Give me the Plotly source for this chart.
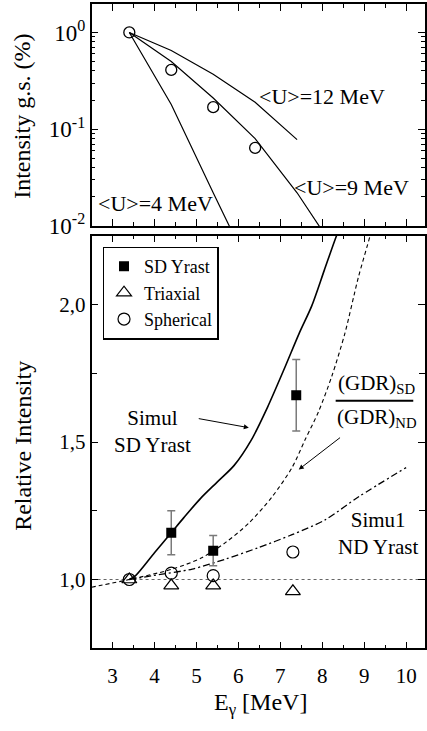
import plotly.graph_objects as go

FONT = "Liberation Serif"

# ---- upper panel: ground-state intensity vs gamma energy ----
gs_energy = [3.4, 4.4, 5.4, 6.4]
gs_intensity = [1.0, 0.41, 0.169, 0.064]

u12_energy = [3.4, 4.4, 5.4, 6.4, 7.4]
u12_intensity = [1.0, 0.65, 0.37, 0.19, 0.078]
u9_energy = [3.4, 4.4, 5.4, 6.4, 7.4, 8.4]
u9_intensity = [1.0, 0.50, 0.21, 0.080, 0.022, 0.0049]
u4_energy = [3.4, 4.4, 5.4, 6.4]
u4_intensity = [1.0, 0.18, 0.022, 0.0028]

# ---- lower panel: relative intensities ----
sd_energy = [4.4, 5.4, 7.38]
sd_rel = [1.17, 1.105, 1.67]
sd_err = [0.08, 0.055, 0.13]

shape_energy = [3.4, 4.4, 5.4, 7.3]
triaxial_rel = [1.0, 0.978, 0.978, 0.957]
spherical_rel = [1.0, 1.023, 1.014, 1.10]

simul_sd_x = [3.4, 3.55, 4.0, 4.4, 4.7, 5.1, 5.5, 5.9, 6.3, 6.7, 7.1, 7.45, 7.75, 8.05, 8.34, 8.45]
simul_sd_y = [1.0, 1.014, 1.097, 1.17, 1.225, 1.295, 1.355, 1.415, 1.505, 1.628, 1.768, 1.895, 1.995, 2.125, 2.25, 2.29]

gdr_ratio_x = [2.5, 3.4, 4.43, 5.14, 5.69, 6.25, 6.80, 7.28, 7.59, 7.91, 8.23, 8.54, 8.86, 9.14, 9.25]
gdr_ratio_y = [0.972, 1.0, 1.038, 1.08, 1.134, 1.205, 1.30, 1.407, 1.508, 1.61, 1.74, 1.895, 2.098, 2.25, 2.32]

simul_nd_x = [3.4, 3.95, 4.9, 5.69, 6.48, 7.28, 8.07, 8.86, 10.0]
simul_nd_y = [1.0, 1.014, 1.038, 1.074, 1.116, 1.163, 1.217, 1.30, 1.407]

W, H = 427, 731
x_dom = [92 / W, 1.0]
top_dom = [1 - 230 / H, 1 - 4 / H]
bot_dom = [1 - 660 / H, 1 - 240 / H]
x_range = [2.5, 10.45]

fig = go.Figure()

# upper panel curves and points
for xs, ys in [(u12_energy, u12_intensity), (u9_energy, u9_intensity), (u4_energy, u4_intensity)]:
    fig.add_trace(go.Scatter(x=xs, y=ys, mode="lines", xaxis="x2", yaxis="y2",
                             line=dict(color="black", width=1.2), showlegend=False))
fig.add_trace(go.Scatter(x=gs_energy, y=gs_intensity, mode="markers", xaxis="x2", yaxis="y2",
                         marker=dict(symbol="circle-open", size=11, color="black", line=dict(width=1.3)),
                         showlegend=False))

# lower panel curves
fig.add_trace(go.Scatter(x=simul_sd_x, y=simul_sd_y, mode="lines",
                         line=dict(color="black", width=1.6, shape="spline", smoothing=0.8),
                         showlegend=False))
fig.add_trace(go.Scatter(x=gdr_ratio_x, y=gdr_ratio_y, mode="lines",
                         line=dict(color="black", width=1.1, dash="4px,3px", shape="spline", smoothing=0.8),
                         showlegend=False))
fig.add_trace(go.Scatter(x=simul_nd_x, y=simul_nd_y, mode="lines",
                         line=dict(color="black", width=1.3, dash="7px,3px,2px,3px", shape="spline", smoothing=0.8),
                         showlegend=False))

# lower panel points
fig.add_trace(go.Scatter(x=sd_energy, y=sd_rel, mode="markers", name="SD Yrast",
                         marker=dict(symbol="square", size=10, color="black"),
                         error_y=dict(type="data", array=sd_err, color="#7a7a7a", thickness=1.5, width=4)))
fig.add_trace(go.Scatter(x=shape_energy, y=triaxial_rel, mode="markers", name="Triaxial",
                         marker=dict(symbol="triangle-up-open", size=13, color="black", line=dict(width=1.2))))
fig.add_trace(go.Scatter(x=shape_energy, y=spherical_rel, mode="markers", name="Spherical",
                         marker=dict(symbol="circle-open", size=12, color="black", line=dict(width=1.2))))

# reference level at unity
fig.add_shape(type="line", xref="x domain", x0=0, x1=1, yref="y", y0=1.0, y1=1.0,
              line=dict(color="#666666", width=1, dash="dot"), layer="below")

# fraction bar of the GDR ratio label
fig.add_shape(type="line", xref="x", yref="y", x0=8.32, x1=10.17, y0=1.650, y1=1.650,
              line=dict(color="black", width=2))

ann = []
def txt(x, y, s, size=21, xref="x", yref="y", angle=0, xanchor="center", yanchor="middle"):
    ann.append(dict(x=x, y=y, xref=xref, yref=yref, text=s, showarrow=False, textangle=angle,
                    xanchor=xanchor, yanchor=yanchor, font=dict(family=FONT, size=size, color="black")))

# upper panel labels (log axis: y given as log10)
txt(7.99, -0.66, "&lt;U&gt;=12 MeV", xref="x2", yref="y2", size=22)
txt(8.7, -1.60, "&lt;U&gt;=9 MeV", xref="x2", yref="y2", size=22)
txt(4.02, -1.77, "&lt;U&gt;=4 MeV", xref="x2", yref="y2", size=22)

# lower panel labels
txt(3.95, 1.538, "Simul<br>SD Yrast")
txt(9.3, 1.657, "(GDR)<sub>SD</sub>", yanchor="bottom")
txt(9.3, 1.643, "(GDR)<sub>ND</sub>", yanchor="top")
txt(9.34, 1.168, "Simu1<br>ND Yrast")

# axis titles
txt(22 / W, 1 - 118 / H, "Intensity g.s. (%)", xref="paper", yref="paper", size=24, angle=-90)
txt(23 / W, 1 - 454 / H, "Relative Intensity", xref="paper", yref="paper", size=24, angle=-90)
txt(262 / W, 1 - 717 / H, "E<sub>γ</sub> [MeV]", xref="paper", yref="paper", size=24)

# arrows
ann.append(dict(x=6.25, y=1.552, ax=5.02, ay=1.586, xref="x", yref="y", axref="x", ayref="y",
                showarrow=True, arrowhead=2, arrowsize=1, arrowwidth=1, arrowcolor="black", text=""))
ann.append(dict(x=7.44, y=1.40, ax=8.46, ay=1.52, xref="x", yref="y", axref="x", ayref="y",
                showarrow=True, arrowhead=2, arrowsize=1, arrowwidth=1, arrowcolor="black", text=""))

axis_common = dict(showline=True, linecolor="black", linewidth=1.5, mirror="allticks",
                   ticks="inside", tickcolor="black", showgrid=False, zeroline=False)
tick_font = dict(family=FONT, size=21, color="black")

fig.update_layout(
    width=W, height=H,
    margin=dict(l=0, r=0, t=0, b=0),
    paper_bgcolor="white", plot_bgcolor="white",
    font=dict(family=FONT, color="black"),
    annotations=ann,
    legend=dict(x=103 / W, y=1 - 251 / H, xanchor="left", yanchor="top",
                bgcolor="white", bordercolor="black", borderwidth=1.5,
                font=dict(family=FONT, size=18, color="black"),
                tracegroupgap=0, itemwidth=30),
    xaxis=dict(domain=x_dom, anchor="y", range=x_range, tickvals=[3, 4, 5, 6, 7, 8, 9, 10],
               ticklen=7, ticklabelstandoff=8, tickfont=tick_font,
               minor=dict(dtick=0.5, tick0=2.5, ticks="inside", ticklen=4, tickcolor="black"),
               **axis_common),
    yaxis=dict(domain=bot_dom, anchor="x", range=[0.75, 2.25], tickvals=[1.0, 1.5, 2.0],
               ticktext=["1,0", "1,5", "2,0"], ticklen=7, tickfont=tick_font,
               minor=dict(dtick=0.25, tick0=0.75, ticks="inside", ticklen=6, tickcolor="black"),
               **axis_common),
    xaxis2=dict(domain=x_dom, anchor="y2", range=x_range, tickvals=[3, 4, 5, 6, 7, 8, 9, 10],
                showticklabels=False, ticklen=7,
                minor=dict(dtick=0.5, tick0=2.5, ticks="inside", ticklen=4, tickcolor="black"),
                **axis_common),
    yaxis2=dict(domain=top_dom, anchor="x2", type="log", range=[-2, 0.295],
                tickvals=[0.01, 0.1, 1], ticktext=["10<sup>-2</sup>", "10<sup>-1</sup>", "10<sup>0</sup>"],
                ticklen=7, tickfont=dict(family=FONT, size=23, color="black"),
                minor=dict(tickvals=[k * 10 ** e for e in (-2, -1, 0) for k in range(2, 10)],
                           ticks="inside", ticklen=4, tickcolor="black"),
                **axis_common),
)

fig.write_html("out.html")
